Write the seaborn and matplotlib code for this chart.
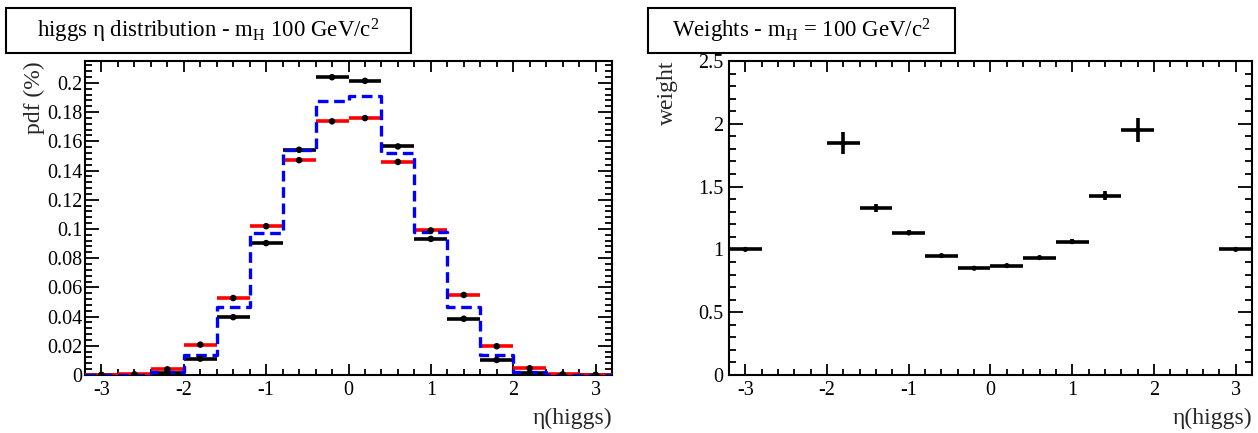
import matplotlib
matplotlib.use("Agg")
import matplotlib.pyplot as plt
from matplotlib.ticker import MultipleLocator, FuncFormatter
from matplotlib.patches import Rectangle
import seaborn as sns

# Binning of the Higgs pseudorapidity (16 bins of width 0.4)
eta_edges = [-3.2, -2.8, -2.4, -2.0, -1.6, -1.2, -0.8, -0.4, 0.0,
             0.4, 0.8, 1.2, 1.6, 2.0, 2.4, 2.8, 3.2]
eta_centers = [-3.0, -2.6, -2.2, -1.8, -1.4, -1.0, -0.6, -0.2,
               0.2, 0.6, 1.0, 1.4, 1.8, 2.2, 2.6, 3.0]

# Normalised eta distributions
pdf_black = [0.0, 0.0002, 0.0011, 0.0112, 0.0396, 0.0903, 0.1542, 0.2039,
             0.2014, 0.1565, 0.0932, 0.0385, 0.0103, 0.0011, 0.0002, 0.0]
pdf_red = [0.0, 0.0004, 0.0039, 0.0208, 0.0527, 0.1019, 0.1471, 0.1737,
           0.1759, 0.1459, 0.0990, 0.0548, 0.0197, 0.0046, 0.0004, 0.0]
pdf_blue = [0.0, 0.0002, 0.0018, 0.0137, 0.0463, 0.0969, 0.1542, 0.1876,
            0.1913, 0.1517, 0.0978, 0.0463, 0.0137, 0.0018, 0.0002, 0.0]

# Per-bin weights (red / black) with their uncertainties
w_centers = [-3.0, -1.8, -1.4, -1.0, -0.6, -0.2, 0.2, 0.6, 1.0, 1.4, 1.8, 3.0]
weights = [1.0, 1.846, 1.331, 1.131, 0.951, 0.850, 0.871, 0.935, 1.062,
           1.429, 1.950, 1.0]
weight_err = [0.0, 0.087, 0.033, 0.020, 0.012, 0.008, 0.008, 0.010, 0.020,
              0.035, 0.093, 0.0]

x_ticks = [-3, -2, -1, 0, 1, 2, 3]
pdf_ticks = [0, 0.02, 0.04, 0.06, 0.08, 0.1, 0.12, 0.14, 0.16, 0.18, 0.2]
w_ticks = [0, 0.5, 1, 1.5, 2, 2.5]

sns.set_theme(style="ticks")
plt.rcParams["font.family"] = ["Liberation Serif", "DejaVu Serif"]
plt.rcParams["mathtext.fontset"] = "custom"
plt.rcParams["mathtext.rm"] = "Liberation Serif"
plt.rcParams["mathtext.it"] = "Liberation Serif:italic"
plt.rcParams["axes.unicode_minus"] = False

W, H = 1258, 433
fig = plt.figure(figsize=(W / 100, H / 100), dpi=100)
fig.patch.set_facecolor("white")

ax1 = fig.add_axes([85 / W, 58 / H, 527 / W, 314 / H])
ax2 = fig.add_axes([729 / W, 58 / H, 523 / W, 314 / H])

fmt = FuncFormatter(lambda v, p: "%g" % round(v, 6))


def style_axes(ax, ymaj, ymin, ypad):
    ax.set_facecolor("white")
    ax.set_xlim(-3.2, 3.2)
    ax.set_xticks(x_ticks)
    ax.xaxis.set_minor_locator(MultipleLocator(0.2))
    ax.yaxis.set_major_locator(MultipleLocator(ymaj))
    ax.yaxis.set_minor_locator(MultipleLocator(ymin))
    ax.xaxis.set_major_formatter(fmt)
    ax.yaxis.set_major_formatter(fmt)
    for s in ax.spines.values():
        s.set_linewidth(1.5)
        s.set_color("black")
    ax.tick_params(which="both", direction="in", top=True, right=True,
                   colors="black", width=1.3, labelsize=14.5)
    ax.tick_params(axis="x", which="major", length=8, pad=4)
    ax.tick_params(axis="x", which="minor", length=4)
    ax.tick_params(axis="y", which="major", length=10, pad=ypad)
    ax.tick_params(axis="y", which="minor", length=5)
    ax.grid(False)


# Left panel: eta distributions
ax1.errorbar(eta_centers, pdf_black, xerr=0.2, fmt="none", ecolor="black",
             elinewidth=2.6, capsize=0, zorder=2)
ax1.errorbar(eta_centers, pdf_red, xerr=0.2, fmt="none", ecolor="red",
             elinewidth=2.6, capsize=0, zorder=3)
sns.histplot(x=eta_centers, weights=pdf_blue, bins=eta_edges, element="step",
             fill=False, color="blue", linestyle=(0, (3.2, 1.7)), linewidth=2.4,
             ax=ax1, zorder=4)
sns.scatterplot(x=eta_centers, y=pdf_black, color="black", s=22,
                edgecolor="none", ax=ax1, zorder=5)
sns.scatterplot(x=eta_centers, y=pdf_red, color="black", s=22,
                edgecolor="none", ax=ax1, zorder=5)
style_axes(ax1, 0.02, 0.004, 2)
ax1.set_yticks(pdf_ticks)
ax1.set_ylim(0, 0.215)
ax1.set_xlabel("η(higgs)", loc="right", fontsize=17, labelpad=6)
ax1.set_ylabel("pdf (%)", loc="top", fontsize=17)
ax1.yaxis.set_label_coords(-0.075, 1.0)

# Right panel: weights
ax2.errorbar(w_centers, weights, xerr=0.2, yerr=weight_err, fmt="none",
             ecolor="black", elinewidth=2.6, capsize=0, zorder=2)
sns.scatterplot(x=w_centers, y=weights, color="black", s=14,
                edgecolor="none", ax=ax2, zorder=3)
style_axes(ax2, 0.5, 0.1, 4)
ax2.set_yticks(w_ticks)
ax2.set_ylim(0, 2.5)
ax2.set_xlabel("η(higgs)", loc="right", fontsize=17, labelpad=6)
ax2.set_ylabel("weight", loc="top", fontsize=17)
ax2.yaxis.set_label_coords(-0.097, 1.0)

# Title panels above each plot
for (x0, x1, txt) in [(6, 411, r"higgs η distribution - m$_{\mathrm{H}}$ 100 GeV/c$^{2}$"),
                      (648, 955, r"Weights - m$_{\mathrm{H}}$ = 100 GeV/c$^{2}$")]:
    y0, y1 = 8, 53
    fig.add_artist(Rectangle((x0 / W, 1 - y1 / H), (x1 - x0) / W, (y1 - y0) / H,
                             transform=fig.transFigure, facecolor="white",
                             edgecolor="black", linewidth=1.5))
    fig.text((x0 + x1) / 2 / W, 1 - (y0 + y1) / 2 / H, txt, ha="center",
             va="center", fontsize=16.5, color="black")

fig.savefig("out.png", dpi=100, facecolor="white")
